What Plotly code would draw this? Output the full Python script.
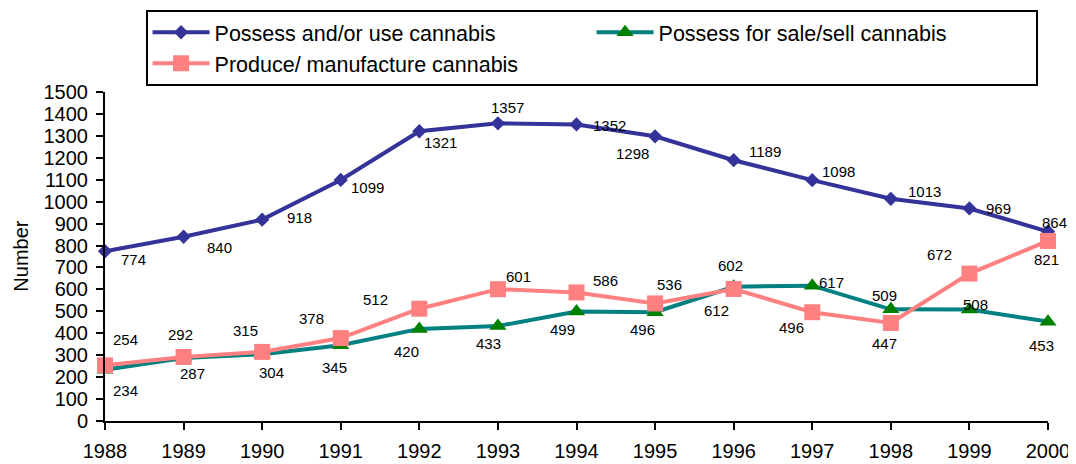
import plotly.graph_objects as go

years = [1988, 1989, 1990, 1991, 1992, 1993, 1994, 1995, 1996, 1997, 1998, 1999, 2000]
possess_use = [774, 840, 918, 1099, 1321, 1357, 1352, 1298, 1189, 1098, 1013, 969, 864]
possess_sale = [234, 287, 304, 345, 420, 433, 499, 496, 612, 617, 509, 508, 453]
produce = [254, 292, 315, 378, 512, 601, 586, 536, 602, 496, 447, 672, 821]

names = ["Possess and/or use cannabis", "Possess for sale/sell cannabis", "Produce/ manufacture cannabis"]
y_ticks = list(range(0, 1501, 100))

# data-label offsets in pixels (dx right, dy down)
off_use = [(28, 8), (36, 11), (37, -2), (27, 8), (21, 11), (10, -16), (33, 1),
           (-23, 17), (31, -9), (26, -9), (34, -7), (29, 0), (6, -9)]
off_sale = [(20, 21), (9, 15), (9, 18), (-6, 22), (-13, 23), (-9, 17), (-14, 18),
            (-13, 17), (-17, 24), (19, -3), (-6, -14), (6, -5), (-7, 24)]
off_prod = [(20, -26), (-3, -22), (-17, -21), (-29, -20), (-44, -9), (21, -13), (29, -12),
            (14, -19), (-3, -23), (-21, 15), (-6, 21), (-30, -19), (-2, 19)]

FONT = "Liberation Sans, Arial, sans-serif"

fig = go.Figure()
fig.add_trace(go.Scatter(
    x=years, y=possess_use, name=names[0], mode="lines+markers",
    line=dict(color="#333399", width=4),
    marker=dict(symbol="diamond", size=11, color="#333399"),
))
fig.add_trace(go.Scatter(
    x=years, y=possess_sale, name=names[1], mode="lines+markers",
    line=dict(color="#008080", width=4),
    marker=dict(symbol="triangle-up", size=15, color="#008000"),
))
fig.add_trace(go.Scatter(
    x=years, y=produce, name=names[2], mode="lines+markers",
    line=dict(color="#FF8080", width=4),
    marker=dict(symbol="square", size=16, color="#FF8080"),
))

annotations = []
for vals, offs in ((possess_use, off_use), (possess_sale, off_sale), (produce, off_prod)):
    for x, v, (dx, dy) in zip(years, vals, offs):
        annotations.append(dict(
            x=x, y=v, xref="x", yref="y", text=str(v), showarrow=False,
            xshift=dx, yshift=-dy, font=dict(family=FONT, size=15, color="black"),
        ))
annotations.append(dict(
    x=-0.09, y=0.5, xref="paper", yref="paper", text="Number", showarrow=False,
    textangle=-90, xanchor="center", yanchor="middle",
    font=dict(family=FONT, size=20, color="black"),
))

# page body has an 8px margin, so the figure is sized 8px smaller in each direction
fig.update_layout(
    width=1068, height=456,
    margin=dict(l=97, r=28, t=84, b=43, autoexpand=False),
    paper_bgcolor="white", plot_bgcolor="white",
    font=dict(family=FONT, color="black"),
    showlegend=True,
    legend=dict(
        orientation="h", x=0.043, y=1.25, xanchor="left", yanchor="top",
        xref="paper", yref="paper",
        bordercolor="black", borderwidth=2, bgcolor="white",
        font=dict(family=FONT, size=21.5, color="black"),
        itemwidth=57,
        entrywidth=372, entrywidthmode="pixels",
        traceorder="normal",
    ),
    annotations=annotations,
    xaxis=dict(
        range=[1988, 2000], tickmode="array", tickvals=years, ticktext=[str(y) for y in years],
        showgrid=False, zeroline=False, showline=True, linecolor="black", linewidth=2,
        ticks="outside", ticklen=7, tickwidth=2, tickcolor="black", automargin=False,
        tickfont=dict(family=FONT, size=20, color="black"), ticklabelstandoff=4,
    ),
    yaxis=dict(
        range=[0, 1500], tickmode="array", tickvals=y_ticks, ticktext=[str(v) for v in y_ticks],
        showgrid=False, zeroline=False, showline=True, linecolor="black", linewidth=2,
        ticks="outside", ticklen=7, tickwidth=2, tickcolor="black", automargin=False,
        tickfont=dict(family=FONT, size=20, color="black"), ticklabelstandoff=4,
    ),
)
fig.update_traces(cliponaxis=False)

fig.write_html("out.html")
